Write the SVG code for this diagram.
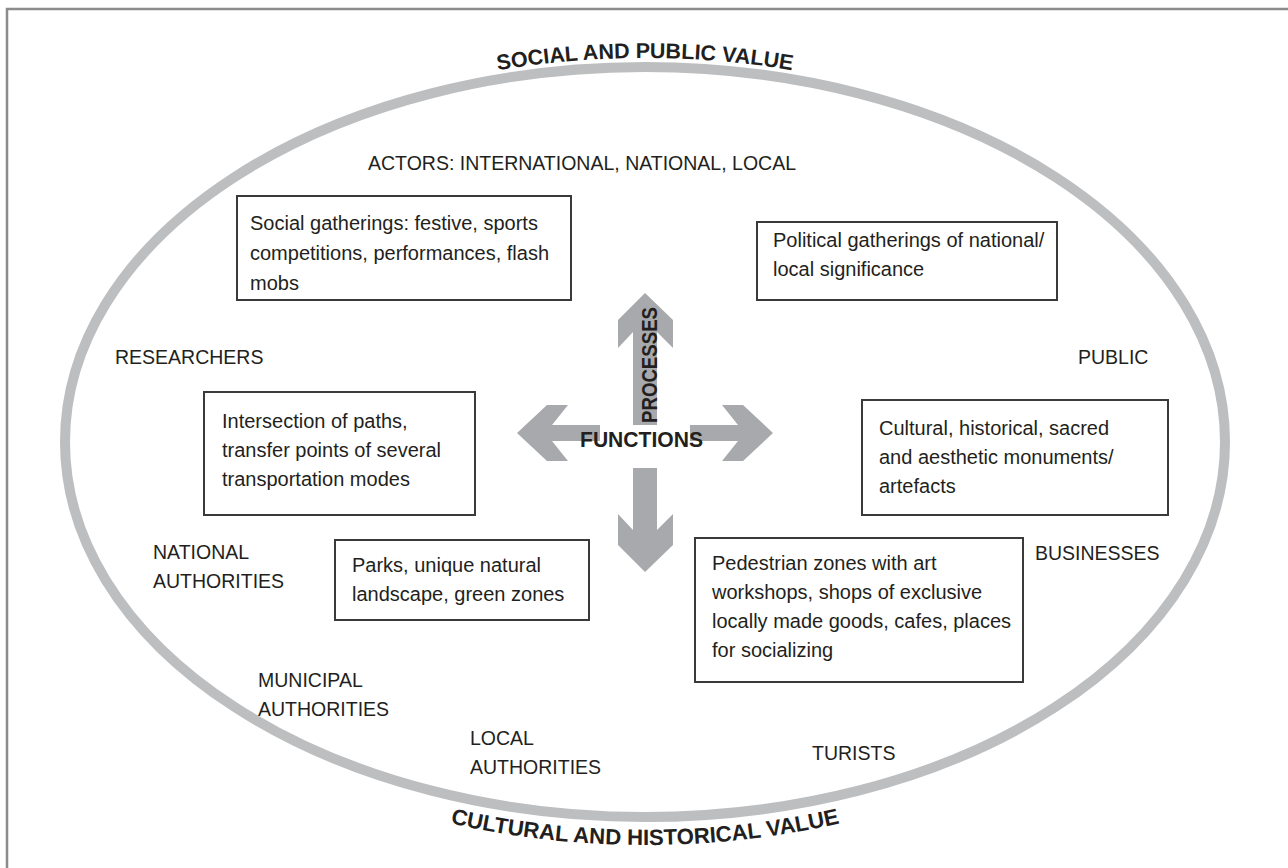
<svg xmlns="http://www.w3.org/2000/svg" width="1288" height="868" viewBox="0 0 1288 868">
<style>
  .t { font-family: "Liberation Sans", Arial, sans-serif; font-size: 20px; fill: #231f20; }
  .u { font-family: "Liberation Sans", Arial, sans-serif; font-size: 19.5px; fill: #231f20; }
  .b { font-family: "Liberation Sans", Arial, sans-serif; font-size: 21.5px; font-weight: bold; fill: #231f20; }
  .b2 { font-family: "Liberation Sans", Arial, sans-serif; font-size: 22.2px; font-weight: bold; fill: #231f20; }
  .box { fill: #ffffff; stroke: #3a3a3a; stroke-width: 2; }
  .arr { fill: #a7a9ac; stroke: none; }
</style>
<defs>
  <path id="topArc" d="M 56 442 A 589 384 0 0 1 1234 442"/>
  <path id="botArc" d="M 45 442 A 600 403 0 0 0 1245 442"/>
</defs>
<rect width="1288" height="868" fill="#ffffff"/>
<path d="M 7 868 V 9 H 1288" fill="none" stroke="#8c8c8c" stroke-width="2.5"/>

<g id="value-ellipse">
  <ellipse cx="645" cy="442" rx="580" ry="375" fill="none" stroke="#bcbec0" stroke-width="10"/>
  <text class="b"><textPath href="#topArc" startOffset="50%" text-anchor="middle">SOCIAL AND PUBLIC VALUE</textPath></text>
  <text class="b2"><textPath href="#botArc" startOffset="50%" text-anchor="middle">CULTURAL AND HISTORICAL VALUE</textPath></text>
</g>

<g id="connectors">
  <polygon class="arr" points="633,425 633,332 618,348 618,320 645,293 673,320 673,348 657,332 657,425"/>
  <polygon class="arr" points="633,468 633,530 618,514 618,545 645,572 673,545 673,514 657,530 657,468"/>
  <polygon class="arr" points="690,425 738,425 722,405 743,405 773,433 743,461 722,461 738,441 690,441"/>
  <polygon class="arr" points="600,425 552,425 568,405 547,405 517,433 547,461 568,461 552,441 600,441"/>
</g>

<g id="center-labels">
  <text class="b" x="580" y="447" textLength="123" lengthAdjust="spacingAndGlyphs">FUNCTIONS</text>
  <text class="b" transform="translate(657,423) rotate(-90)" x="0" y="0" textLength="116" lengthAdjust="spacingAndGlyphs">PROCESSES</text>
</g>

<g id="actors"><text class="u" x="582" y="170" text-anchor="middle">ACTORS: INTERNATIONAL, NATIONAL, LOCAL</text></g>
<g id="researchers"><text class="u" x="115" y="364">RESEARCHERS</text></g>
<g id="public"><text class="u" x="1078" y="364">PUBLIC</text></g>
<g id="national-authorities"><text class="u" x="153" y="559">NATIONAL</text><text class="u" x="153" y="588">AUTHORITIES</text></g>
<g id="municipal-authorities"><text class="u" x="258" y="687">MUNICIPAL</text><text class="u" x="258" y="716">AUTHORITIES</text></g>
<g id="local-authorities"><text class="u" x="470" y="745">LOCAL</text><text class="u" x="470" y="774">AUTHORITIES</text></g>
<g id="businesses"><text class="u" x="1035" y="560">BUSINESSES</text></g>
<g id="turists"><text class="u" x="812" y="760">TURISTS</text></g>

<g id="social-gatherings">
  <rect class="box" x="237" y="196" width="334" height="104"/>
  <text class="t" x="250" y="230">Social gatherings: festive, sports</text>
  <text class="t" x="250" y="260">competitions, performances, flash</text>
  <text class="t" x="250" y="290">mobs</text>
</g>
<g id="political-gatherings">
  <rect class="box" x="757" y="222" width="300" height="78"/>
  <text class="t" x="773" y="247">Political gatherings of national/</text>
  <text class="t" x="773" y="276">local significance</text>
</g>
<g id="intersection">
  <rect class="box" x="204" y="392" width="271" height="123"/>
  <text class="t" x="222" y="428">Intersection of paths,</text>
  <text class="t" x="222" y="457">transfer points of several</text>
  <text class="t" x="222" y="486">transportation modes</text>
</g>
<g id="parks">
  <rect class="box" x="335" y="540" width="254" height="80"/>
  <text class="t" x="352" y="572">Parks, unique natural</text>
  <text class="t" x="352" y="601">landscape, green zones</text>
</g>
<g id="monuments">
  <rect class="box" x="862" y="400" width="306" height="115"/>
  <text class="t" x="879" y="435">Cultural, historical, sacred</text>
  <text class="t" x="879" y="464">and aesthetic monuments/</text>
  <text class="t" x="879" y="493">artefacts</text>
</g>
<g id="pedestrian-zones">
  <rect class="box" x="695" y="538" width="328" height="144"/>
  <text class="t" x="712" y="570">Pedestrian zones with art</text>
  <text class="t" x="712" y="599">workshops, shops of exclusive</text>
  <text class="t" x="712" y="628">locally made goods, cafes, places</text>
  <text class="t" x="712" y="657">for socializing</text>
</g>
</svg>
